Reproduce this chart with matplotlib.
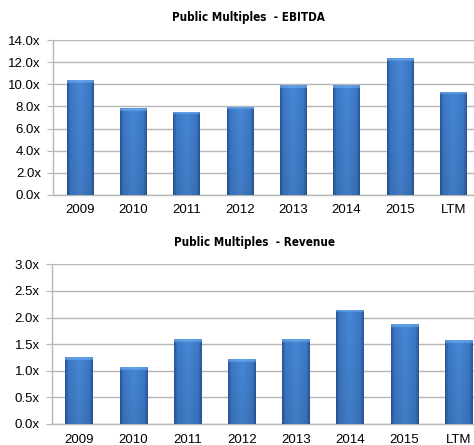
import numpy as np
import matplotlib.pyplot as plt
from matplotlib.colors import LinearSegmentedColormap

categories = ['2009', '2010', '2011', '2012', '2013', '2014', '2015', 'LTM']
ebitda = [10.37, 7.83, 7.53, 7.98, 9.95, 9.95, 12.42, 9.34]
revenue = [1.25, 1.07, 1.59, 1.22, 1.59, 2.15, 1.87, 1.57]

ebitda_ticks = [0, 2, 4, 6, 8, 10, 12, 14]
revenue_ticks = [0, 0.5, 1.0, 1.5, 2.0, 2.5, 3.0]

plt.rcParams['font.family'] = ['Liberation Sans', 'DejaVu Sans']

grid_col = '#B7B7B7'
bar_cmap = LinearSegmentedColormap.from_list(
    'bar', [(0, '#2A5698'), (0.12, '#3B78C6'), (0.5, '#4787D4'),
            (0.88, '#3B78C6'), (1, '#2A5698')])

# horizontal shade (dark edges, lighter middle), slightly darker toward bottom
nx, ny = 60, 300
xs = np.linspace(0, 1, nx)
ys = np.linspace(0, 1, ny)
X, Y = np.meshgrid(xs, ys)
shade_rgb = bar_cmap(X)[..., :3]
vert = 0.92 + 0.08 * Y
shade_rgb = shade_rgb * vert[..., None]
cap_rgb = bar_cmap(xs)[:, :3] * 0.4 + np.array([0.45, 0.70, 0.95]) * 0.6


def draw_panel(ax, values, ticks, fmt, width, px_per_unit):
    bars = ax.bar(categories, values, width=width, color='#3B78C6', zorder=3)
    for b in bars:
        x0, y0 = b.get_x(), b.get_y()
        w, h = b.get_width(), b.get_height()
        img = shade_rgb.copy()
        rows = max(int(ny * (3.0 / px_per_unit) / h), 1)
        img[-rows:] = cap_rgb[None, :, :]
        im = ax.imshow(img, extent=(x0, x0 + w, y0, y0 + h), origin='lower',
                       aspect='auto', zorder=4, interpolation='bilinear')
        im.set_clip_path(b)
    ax.set_xlim(-0.5, len(categories) - 0.5)
    ax.set_ylim(0, ticks[-1])
    ax.set_yticks(ticks)
    ax.set_yticklabels([fmt.format(t) for t in ticks])
    ax.grid(axis='y', color=grid_col, linewidth=1.0, zorder=0)
    ax.set_axisbelow(True)
    for s in ['top', 'right']:
        ax.spines[s].set_visible(False)
    for s in ['left', 'bottom']:
        ax.spines[s].set_color(grid_col)
        ax.spines[s].set_linewidth(1.0)
    ax.tick_params(axis='y', length=4, color=grid_col, pad=5, labelsize=9.5)
    ax.tick_params(axis='x', length=0, pad=7, labelsize=9.5)


fig = plt.figure(figsize=(4.74, 4.45), dpi=100)
ax1 = fig.add_axes([0.1125, 0.5625, 0.900, 0.347])
ax2 = fig.add_axes([0.110, 0.0472, 0.915, 0.3589])

draw_panel(ax1, ebitda, ebitda_ticks, '{:.1f}x', 0.5, 11.0)
draw_panel(ax2, revenue, revenue_ticks, '{:.1f}x', 0.51, 53.2)

title_font = dict(family='DejaVu Sans', stretch='condensed', weight='bold', size=8.4)
fig.text(0.525, 0.9596, 'Public Multiples  - EBITDA', ha='center', va='center', **title_font)
fig.text(0.536, 0.454, 'Public Multiples  - Revenue', ha='center', va='center', **title_font)

fig.savefig('out.png', dpi=100)
